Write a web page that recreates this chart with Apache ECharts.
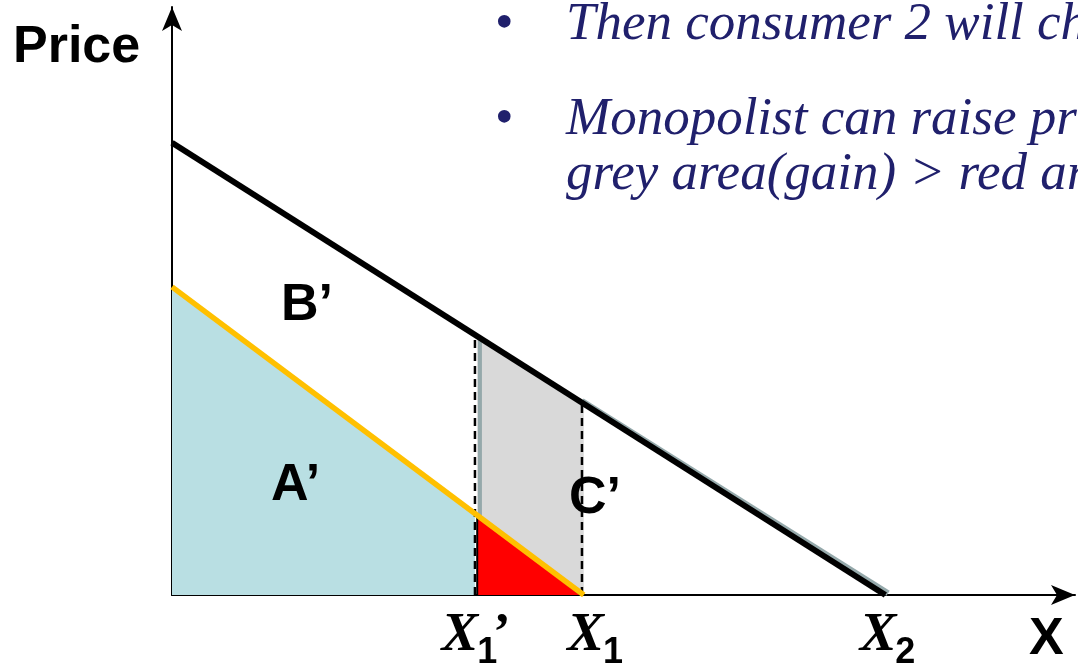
<!DOCTYPE html>
<html>
<head>
<meta charset="utf-8">
<script src="https://cdn.jsdelivr.net/npm/echarts@6/dist/echarts.min.js"></script>
<style>
html, body { margin: 0; padding: 0; background: #fff; }
#main { width: 1078px; height: 669px; }
</style>
</head>
<body>
<div id="main"></div>
<script>
// quantities marked on the X axis
var tickValues = [33.8, 45.4, 79];
var tickSubs = ['1', '1', '2'];
var tickPrimes = ['’', '', ''];
// demand curves [quantity, price]
var demand2 = [[0, 76.9], [79, 0]];
var demand1 = [[0, 52.4], [45.6, 0]];
var demand2Shade = [[45.4, 33.0], [79.3, 0.3]];
// shaded regions
var areaA = [[0, 52.4], [33.55, 13.85]];
var areaGrey = [[33.8, 44.0], [45.6, 32.5]];
var areaRed = [[33.8, 0], [33.8, 13.6], [45.3, 0]];
var greyEdge = [[34.1, 43.7], [34.1, 13.2]];
var dashLeft = [[33.55, 0], [33.55, 44.2]];
var dashRight = [[45.4, 0], [45.4, 32.7]];
var bulletLines = ['Then consumer 2 will ch', 'Monopolist can raise pr', 'grey area(gain) > red ar'];

var navy = '#20206c';

function line(data, color, width, fill, dash) {
    return {
        type: 'line',
        data: data,
        showSymbol: false,
        silent: true,
        animation: false,
        lineStyle: { color: color, width: width, type: dash || 'solid' },
        areaStyle: fill ? { color: fill, opacity: 1 } : undefined
    };
}

var chart = echarts.init(document.getElementById('main'));
chart.setOption({
    backgroundColor: '#fff',
    animation: false,
    grid: { left: 172, right: 3, top: 7, bottom: 74 },
    xAxis: {
        type: 'value', min: 0, max: 100,
        axisLine: { onZero: false, symbol: ['none', 'arrow'], symbolSize: [15, 24], lineStyle: { color: '#000', width: 2 } },
        axisTick: { show: false }, axisLabel: { show: false }, splitLine: { show: false }
    },
    yAxis: {
        type: 'value', min: 0, max: 100,
        axisLine: { onZero: false, symbol: ['none', 'arrow'], symbolSize: [15, 24], lineStyle: { color: '#000', width: 2 } },
        axisTick: { show: false }, axisLabel: { show: false }, splitLine: { show: false }
    },
    series: [
        line(areaA, '#b9dfe3', 0, '#b9dfe3'),
        line(areaGrey, '#d9d9d9', 0, '#d9d9d9'),
        line(greyEdge, '#95a9ab', 4),
        line(areaRed, '#000', 2, '#ff0000'),
        line(dashLeft, '#000', 2.5, null, [8, 5]),
        line(dashRight, '#000', 2.5, null, [8, 5]),
        line(demand1, '#ffc000', 5.5),
        line(demand2Shade, '#95a9ab', 6),
        line(demand2, '#000', 6)
    ]
});

var big = 'bold 52px "Liberation Sans"';
var graphics = [
    { type: 'text', z: 100, x: 13, y: 48, style: { text: 'Price', font: big, fill: '#000', align: 'left', verticalAlign: 'middle' } },
    { type: 'text', z: 100, x: 281, y: 306, style: { text: 'B’', font: big, fill: '#000', align: 'left', verticalAlign: 'middle' } },
    { type: 'text', z: 100, x: 271, y: 486, style: { text: 'A’', font: big, fill: '#000', align: 'left', verticalAlign: 'middle' } },
    { type: 'text', z: 100, x: 569, y: 499, style: { text: 'C’', font: big, fill: '#000', align: 'left', verticalAlign: 'middle' } },
    { type: 'text', z: 100, x: 1029, y: 640, style: { text: 'X', font: big, fill: '#000', align: 'left', verticalAlign: 'middle' } },
    { type: 'text', z: 100, x: 495, y: 25, style: { text: '•', font: '53px "Liberation Serif"', fill: navy, align: 'left', verticalAlign: 'middle' } },
    { type: 'text', z: 100, x: 495, y: 120, style: { text: '•', font: '53px "Liberation Serif"', fill: navy, align: 'left', verticalAlign: 'middle' } }
];
var lineY = [25, 120, 175];
bulletLines.forEach(function (t, i) {
    graphics.push({ type: 'text', z: 100, x: 566, y: lineY[i], style: { text: t, font: 'italic 53px "Liberation Serif"', fill: navy, align: 'left', verticalAlign: 'middle' } });
});

// axis tick labels placed from the axis scale
var tickShift = [0, 21, 10];
tickValues.forEach(function (v, i) {
    var px = chart.convertToPixel({ gridIndex: 0 }, [v, 0])[0] + tickShift[i];
    graphics.push({ type: 'text', z: 100, x: px + 1, y: 636, style: { text: 'X', font: 'italic bold 55px "Liberation Serif"', fill: '#000', align: 'right', verticalAlign: 'middle' } });
    graphics.push({ type: 'text', z: 100, x: px, y: 653, style: { text: tickSubs[i], font: 'bold 36px "Liberation Sans"', fill: '#000', align: 'left', verticalAlign: 'middle' } });
    if (tickPrimes[i]) {
        graphics.push({ type: 'text', z: 100, x: px + 16, y: 636, style: { text: tickPrimes[i], font: 'bold 52px "Liberation Serif"', fill: '#000', align: 'left', verticalAlign: 'middle' } });
    }
});
chart.setOption({ graphic: graphics });
</script>
</body>
</html>
